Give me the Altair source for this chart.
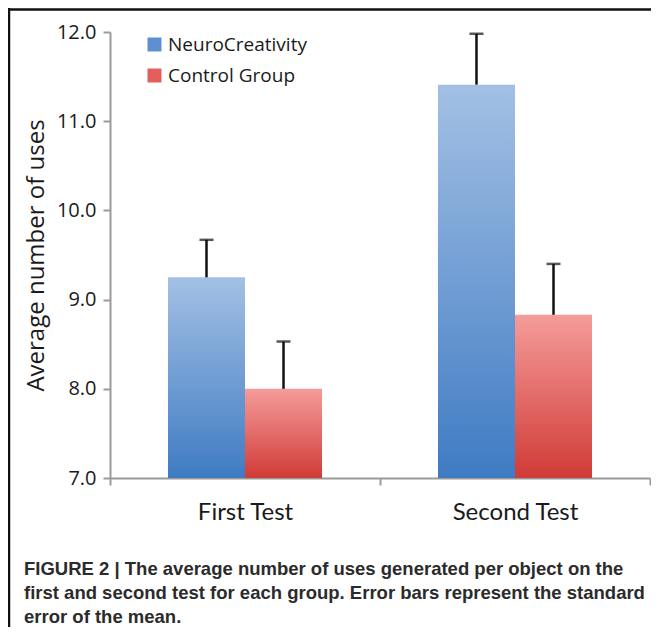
import altair as alt
import pandas as pd

# ---- data ----
tests = ["First Test", "First Test", "Second Test", "Second Test"]
groups = ["NeuroCreativity", "Control Group", "NeuroCreativity", "Control Group"]
means = [9.25, 8.00, 11.41, 8.83]
uppers = [9.67, 8.53, 11.98, 9.40]

test_order = ["First Test", "Second Test"]
group_order = ["NeuroCreativity", "Control Group"]
legend_colors = ["#5e8fd0", "#e25f5c"]
y_min, y_max = 7, 12
y_ticks = [7, 8, 9, 10, 11, 12]
y_title = "Average number of uses"
caption_lines = [
    "FIGURE 2 | The average number of uses generated per object on the",
    "first and second test for each group. Error bars represent the standard",
    "error of the mean.",
]

df = pd.DataFrame({"test": tests, "group": groups, "mean": means, "upper": uppers})

blue_grad = alt.LinearGradient(
    gradient="linear", x1=0, y1=0, x2=0, y2=1,
    stops=[alt.GradientStop(color="#a3c0e4", offset=0),
           alt.GradientStop(color="#3f7bc3", offset=1)])
red_grad = alt.LinearGradient(
    gradient="linear", x1=0, y1=0, x2=0, y2=1,
    stops=[alt.GradientStop(color="#f49c9a", offset=0),
           alt.GradientStop(color="#d03b36", offset=1)])

x_enc = alt.X("test:N", sort=test_order,
              scale=alt.Scale(domain=test_order, paddingInner=0, paddingOuter=0),
              axis=alt.Axis(title=None, labelAngle=0, tickBand="extent",
                            labelFont="Lato", labelFontSize=24, labelPadding=15))
xo_enc = alt.XOffset("group:N", sort=group_order,
                     scale=alt.Scale(domain=group_order, paddingInner=0, paddingOuter=0.753))
y_scale = alt.Scale(domain=[y_min, y_max], nice=False, zero=False)
y_enc = alt.Y("mean:Q", scale=y_scale,
              axis=alt.Axis(values=y_ticks, format=".1f", title=y_title, grid=False,
                            labelFontSize=20, labelPadding=7, titleFontSize=24,
                            titleFontWeight="normal", titlePadding=8))
y2_enc = alt.datum(y_min)

base = alt.Chart(df)

blue = base.transform_filter(alt.datum.group == group_order[0]).mark_bar(color=blue_grad).encode(
    x=x_enc, xOffset=xo_enc, y=y_enc, y2=y2_enc)
red = base.transform_filter(alt.datum.group == group_order[1]).mark_bar(color=red_grad).encode(
    x=x_enc, xOffset=xo_enc, y=y_enc, y2=y2_enc)

legend_layer = base.mark_bar(opacity=0).encode(
    x=x_enc, xOffset=xo_enc, y=y_enc, y2=y2_enc,
    color=alt.Color("group:N", sort=group_order,
                    scale=alt.Scale(domain=group_order, range=legend_colors),
                    legend=alt.Legend(title=None, orient="none", legendX=35, legendY=3,
                                      symbolType="square", symbolSize=196,
                                      symbolOpacity=1, symbolStrokeWidth=0,
                                      labelFontSize=19, labelColor="#1a1a1a",
                                      labelFont="Open Sans", labelOffset=4,
                                      rowPadding=11, padding=0)))

err = base.mark_rule(color="#111111", strokeWidth=2.5).encode(
    x=x_enc, xOffset=xo_enc, y=y_enc, y2="upper:Q")
cap = base.mark_tick(color="#111111", thickness=2.5, size=14, orient="horizontal").encode(
    x=x_enc, xOffset=xo_enc, y=alt.Y("upper:Q", scale=y_scale))

frame_data = alt.InlineData(values=[{"k": 0}])
frame_v = alt.Chart(frame_data).mark_rule(color="#111111", strokeWidth=2.5).encode(
    x=alt.value(-101), y=alt.value(-24), y2=alt.value(600))
frame_h = alt.Chart(frame_data).mark_rule(color="#111111", strokeWidth=2.5).encode(
    y=alt.value(-22.5), x=alt.value(-103), x2=alt.value(560))

chart = alt.layer(blue, red, legend_layer, err, cap, frame_v, frame_h).properties(
    width=540, height=446,
    autosize=alt.AutoSizeParams(type="none"),
    padding={"left": 102, "top": 24, "right": 1, "bottom": 149},
    title=alt.TitleParams(text=caption_lines, orient="bottom", anchor="start", frame="group",
                          dx=-86, offset=-73, font="Liberation Sans", fontSize=18.5,
                          fontWeight="bold", color="#2b2b2b", lineHeight=24, baseline="top"),
).configure(font="Open Sans").configure_view(stroke=None).configure_axis(
    domainColor="#9a9a9a", domainWidth=2, tickColor="#9a9a9a", tickWidth=2, tickSize=7,
    labelColor="#1a1a1a", titleColor="#1a1a1a", labelFont="Open Sans", titleFont="Open Sans")

chart.save("out.html", embed_options={"renderer": "svg", "actions": False})
